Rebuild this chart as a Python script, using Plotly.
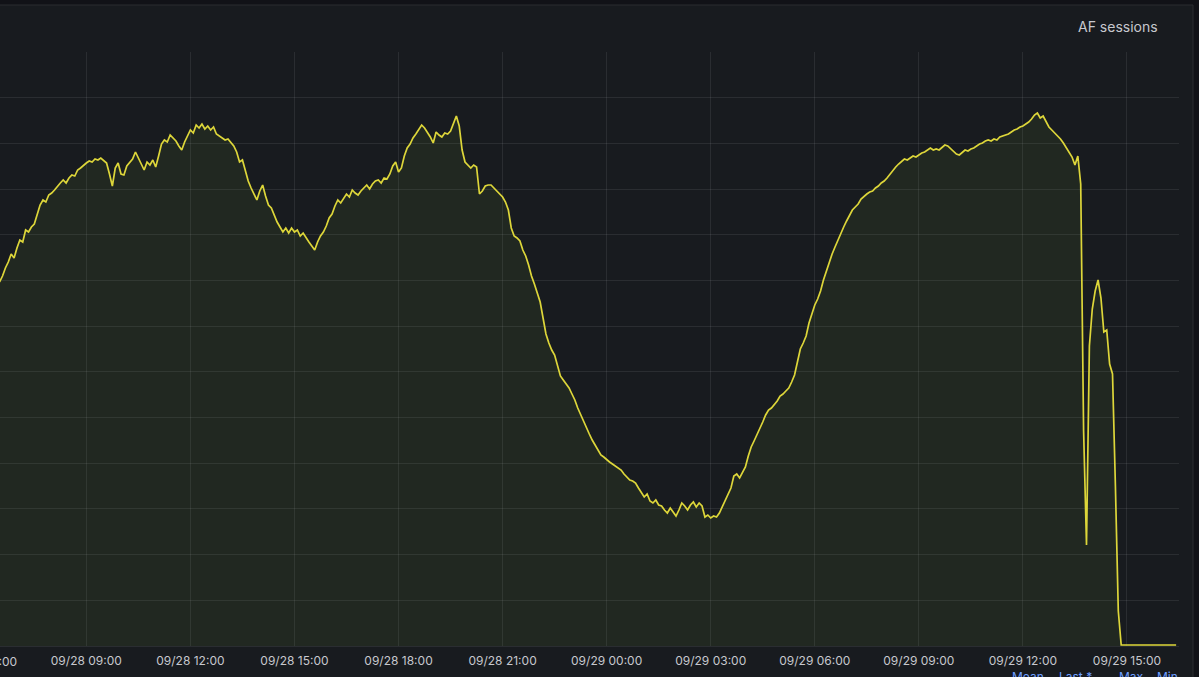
import pandas as pd
import plotly.graph_objects as go

# ---- data (5-minute samples, 09/28 06:30 -> 09/29 16:25) ----
start_time = "2023-09-28 06:30"
step = "5min"
af_sessions = [
    364, 370, 378, 384, 392, 388, 398, 406, 404, 416, 414, 419, 422, 432, 441, 446, 444, 451, 453, 456,
    460, 463, 466, 463, 468, 471, 470, 476, 478, 481, 483, 485, 484, 487, 486, 488, 485, 483, 472, 460,
    478, 483, 472, 471, 480, 484, 487, 494, 488, 482, 476, 484, 481, 486, 479, 490, 502, 506, 504, 511,
    508, 505, 500, 496, 504, 510, 516, 513, 521, 518, 522, 517, 520, 516, 519, 512, 510, 508, 506, 507,
    504, 500, 494, 484, 486, 474, 465, 458, 452, 446, 455, 461, 450, 441, 438, 430, 424, 419, 414, 418,
    413, 418, 414, 416, 410, 413, 408, 404, 400, 396, 404, 410, 414, 420, 428, 432, 440, 446, 443, 448,
    452, 449, 456, 453, 451, 455, 458, 461, 457, 462, 465, 466, 463, 468, 467, 472, 480, 484, 474, 478,
    490, 498, 502, 508, 512, 516, 521, 518, 514, 509, 503, 514, 511, 509, 513, 512, 515, 522, 530, 520,
    496, 484, 481, 478, 481, 479, 452, 455, 460, 461, 461, 458, 456, 452, 449, 444, 436, 418, 410, 408,
    405, 396, 390, 381, 370, 362, 352, 344, 328, 312, 303, 296, 291, 280, 270, 266, 262, 258, 252, 246,
    238, 231, 225, 219, 212, 206, 201, 196, 191, 189, 186, 184, 182, 180, 178, 176, 172, 169, 166, 165,
    163, 158, 154, 149, 152, 145, 143, 146, 141, 140, 136, 133, 138, 134, 130, 136, 143, 140, 136, 141,
    144, 139, 143, 140, 129, 131, 128, 130, 129, 133, 139, 146, 152, 158, 170, 172, 168, 174, 179, 190,
    199, 205, 211, 218, 224, 231, 236, 238, 241, 245, 250, 252, 255, 258, 264, 271, 284, 297, 303, 310,
    323, 333, 341, 347, 355, 366, 375, 384, 392, 399, 406, 413, 419, 425, 431, 436, 439, 442, 447, 450,
    452, 454, 455, 458, 460, 463, 465, 468, 472, 476, 479, 482, 485, 487, 486, 488, 490, 489, 491, 493,
    494, 496, 498, 496, 497, 496, 499, 501, 500, 497, 494, 492, 491, 494, 496, 495, 497, 498, 500, 502,
    503, 505, 506, 505, 507, 506, 509, 510, 511, 512, 514, 516, 517, 519, 520, 522, 524, 527, 531, 533,
    528, 530, 524, 519, 516, 513, 511, 507, 503, 498, 494, 489, 481, 490, 462, 215, 101, 300, 337, 355,
    366, 348, 314, 316, 282, 272, 160, 35, 1, 1, 1, 1, 1, 1, 1, 1, 1, 1, 1, 1,
    1, 1, 1, 1, 1, 1, 1, 1,
]
times = pd.date_range(start_time, periods=len(af_sessions), freq=step)

x_range = ["2023-09-28 06:30:40", "2023-09-29 16:30:00"]
y_max = 594
y_step = y_max / 13
series_name = "AF sessions"
stat_labels = ["Mean", "Last *", "Max", "Min"]
hidden_tick_label = "09/28 06:00"

PAGE_BG = "#111217"
PANEL_BG = "#181b1f"
GRID = "rgba(204,204,220,0.10)"
BORDER = "#2a2c31"
TEXT = "#c7c8ce"
LINE = "#ddd63a"
FILL = "rgba(120,160,60,0.10)"
BLUE = "#6e9fff"

fig = go.Figure()
fig.add_trace(go.Scatter(
    x=times, y=af_sessions, mode="lines", name=series_name,
    line=dict(color=LINE, width=1.7), fill="tozeroy", fillcolor=FILL,
    hoverinfo="skip",
))

W, H = 1199, 677
L, R, T, B = 0, 20, 52, 31
plot_w = W - L - R
plot_h = H - T - B

def px_x(px):
    return (px - L) / plot_w

def px_y(py):
    return (H - B - py) / plot_h

shapes = [
    dict(type="rect", xref="paper", yref="paper",
         x0=px_x(-20), x1=px_x(1193), y0=px_y(700), y1=px_y(5),
         fillcolor=PANEL_BG, line=dict(color=BORDER, width=1), layer="below"),
]

annotations = [
    dict(text=series_name, xref="paper", yref="paper", x=px_x(1160), y=px_y(27),
         xanchor="right", yanchor="middle", showarrow=False,
         font=dict(family="Inter", size=14, color=TEXT)),
    dict(text=hidden_tick_label, xref="paper", yref="paper", x=px_x(-19), y=px_y(652),
         xanchor="center", yanchor="top", showarrow=False,
         font=dict(family="Inter", size=12, color=TEXT)),
]
stat_px = [1028, 1075, 1131, 1167]
for lab, sx in zip(stat_labels, stat_px):
    annotations.append(dict(text=lab, xref="paper", yref="paper", x=px_x(sx), y=px_y(667),
                            xanchor="center", yanchor="top", showarrow=False,
                            font=dict(family="Inter", size=12, color=BLUE)))

fig.update_layout(
    width=W, height=H,
    margin=dict(l=L, r=R, t=T, b=B, pad=0),
    paper_bgcolor=PAGE_BG, plot_bgcolor="rgba(0,0,0,0)",
    showlegend=False,
    shapes=shapes, annotations=annotations,
    font=dict(family="Inter", color=TEXT, size=12),
    xaxis=dict(
        type="date", range=x_range,
        tick0="2023-09-28 00:00", dtick=3 * 3600 * 1000,
        tickformat="%m/%d %H:%M",
        showgrid=True, gridcolor=GRID, gridwidth=1,
        ticks="outside", ticklen=4, tickcolor="rgba(0,0,0,0)",
        tickfont=dict(family="Inter", size=12, color=TEXT),
        zeroline=False, showline=False,
    ),
    yaxis=dict(
        range=[0, y_max], tick0=0, dtick=y_step,
        showticklabels=False, showgrid=True, gridcolor=GRID, gridwidth=1,
        zeroline=True, zerolinecolor=GRID, zerolinewidth=1, showline=False,
    ),
)

fig.write_html(
    "out.html",
    config={"displayModeBar": False},
    post_script="document.body.style.margin='0';document.body.style.background='#111217';",
)
